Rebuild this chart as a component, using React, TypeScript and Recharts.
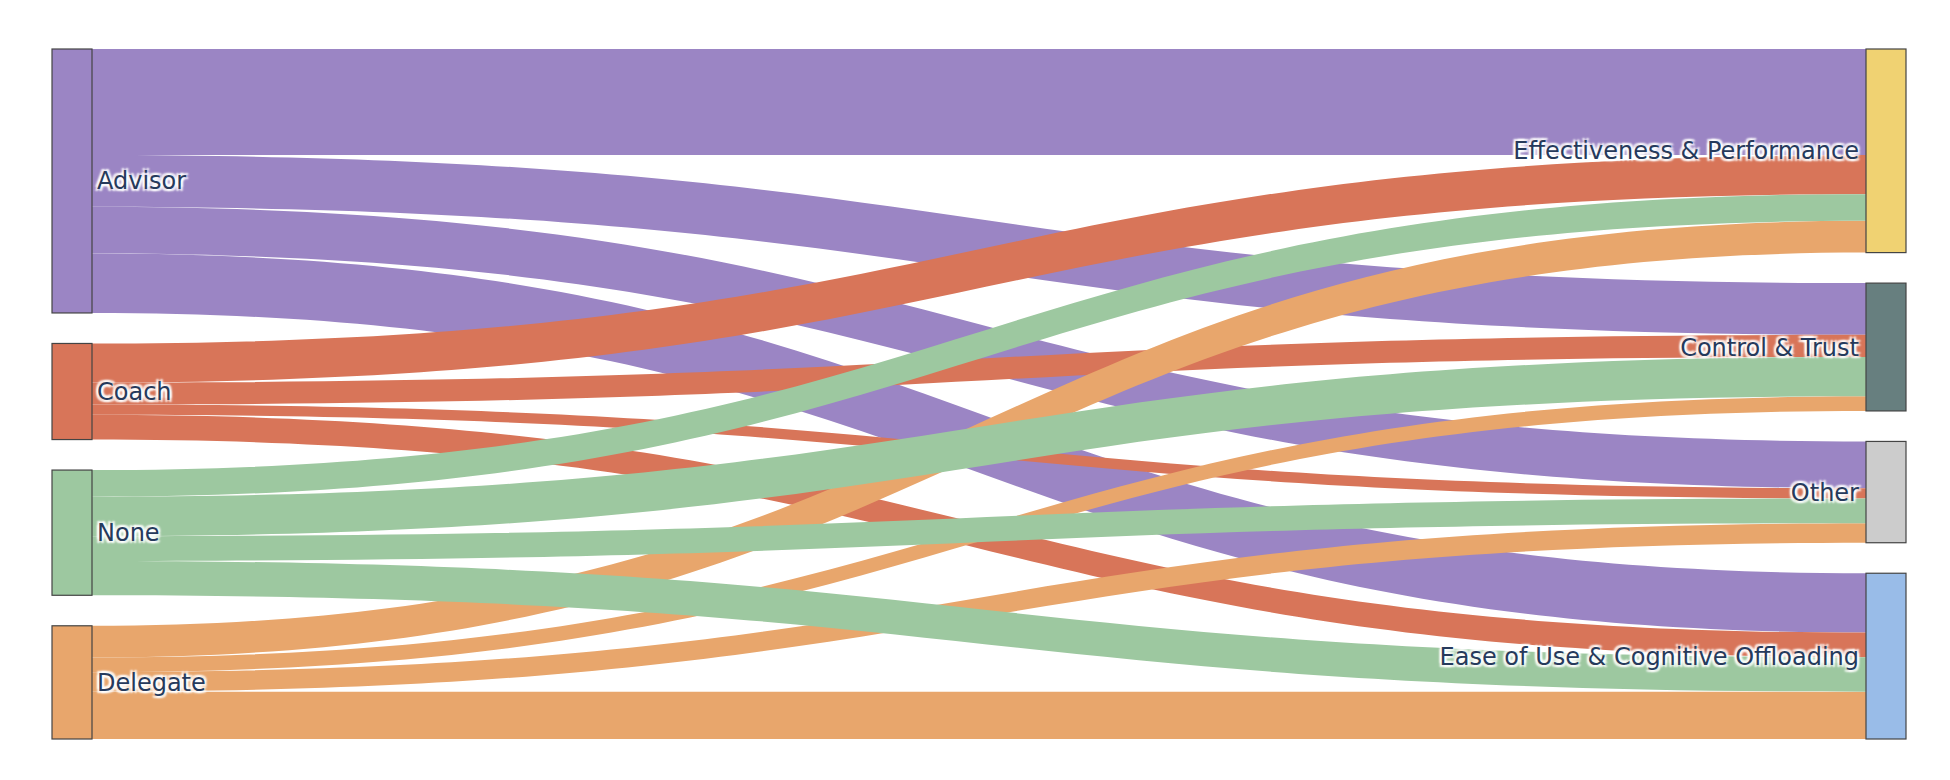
import { Sankey } from 'recharts'

// 节点
const sourceNames = ['Advisor', 'Coach', 'None', 'Delegate']
const targetNames = [
  'Effectiveness & Performance',
  'Control & Trust',
  'Other',
  'Ease of Use & Cognitive Offloading',
]

// 每个来源流向各目标的值（顺序同 targetNames）
const advisorValues = [106, 51.7, 46.7, 59.3]
const coachValues = [39, 22, 10.3, 24.7]
const noneValues = [26.7, 39.4, 24.7, 34.3]
const delegateValues = [31.7, 14.6, 19.5, 47.3]

const nodeColors: Record<string, string> = {
  Advisor: '#9b85c4',
  Coach: '#d87559',
  None: '#9dc8a0',
  Delegate: '#e8a66c',
  'Effectiveness & Performance': '#f0d272',
  'Control & Trust': '#677f7f',
  Other: '#cccccc',
  'Ease of Use & Cognitive Offloading': '#99bce8',
}

const nodes = [...sourceNames, ...targetNames].map((name) => ({ name }))

// 绘制顺序：Advisor, Coach, Delegate, None（后画的在上层）
const drawOrder: [number, number[]][] = [
  [0, advisorValues],
  [1, coachValues],
  [3, delegateValues],
  [2, noneValues],
]

const links = drawOrder.flatMap(([src, values]) =>
  values.map((value, t) => ({ source: src, target: sourceNames.length + t, value }))
)

const labelStyle = {
  fontFamily: '"DejaVu Sans", Verdana, sans-serif',
  fontSize: 24,
  fill: '#263a5c',
  textShadow:
    '2px 2px 2px #fff, 2px -2px 2px #fff, -2px 2px 2px #fff, -2px -2px 2px #fff, 0 0 2px #fff',
}

function renderNode(props: any) {
  const { x, y, width, height, payload } = props
  const isLeft = payload.depth === 0
  const cy = y + height / 2
  return (
    <g>
      <rect
        x={x}
        y={y}
        width={width}
        height={height}
        fill={nodeColors[payload.name]}
        stroke="#444"
        strokeWidth={1.2}
      />
      <text
        x={isLeft ? x + width + 5 : x - 7}
        y={cy + 8.5}
        textAnchor={isLeft ? 'start' : 'end'}
        style={labelStyle}
      >
        {payload.name}
      </text>
    </g>
  )
}

function renderLink(props: any) {
  const { sourceX, sourceY, targetX, targetY, sourceControlX, targetControlX, linkWidth, payload } = props
  const h = linkWidth / 2
  const d =
    `M${sourceX},${sourceY - h}` +
    `C${sourceControlX},${sourceY - h} ${targetControlX},${targetY - h} ${targetX},${targetY - h}` +
    `L${targetX},${targetY + h}` +
    `C${targetControlX},${targetY + h} ${sourceControlX},${sourceY + h} ${sourceX},${sourceY + h}Z`
  return <path d={d} fill={nodeColors[payload.source.name]} stroke="none" />
}

export default function App() {
  return (
    <div style={{ width: 1934, height: 760 }}>
      <Sankey
        width={1934}
        height={760}
        data={{ nodes, links }}
        nodeWidth={40}
        nodePadding={30.5}
        iterations={0}
        linkCurvature={0.5}
        margin={{ top: 41, right: 36, bottom: 29, left: 44 }}
        node={renderNode}
        link={renderLink}
      />
    </div>
  )
}
